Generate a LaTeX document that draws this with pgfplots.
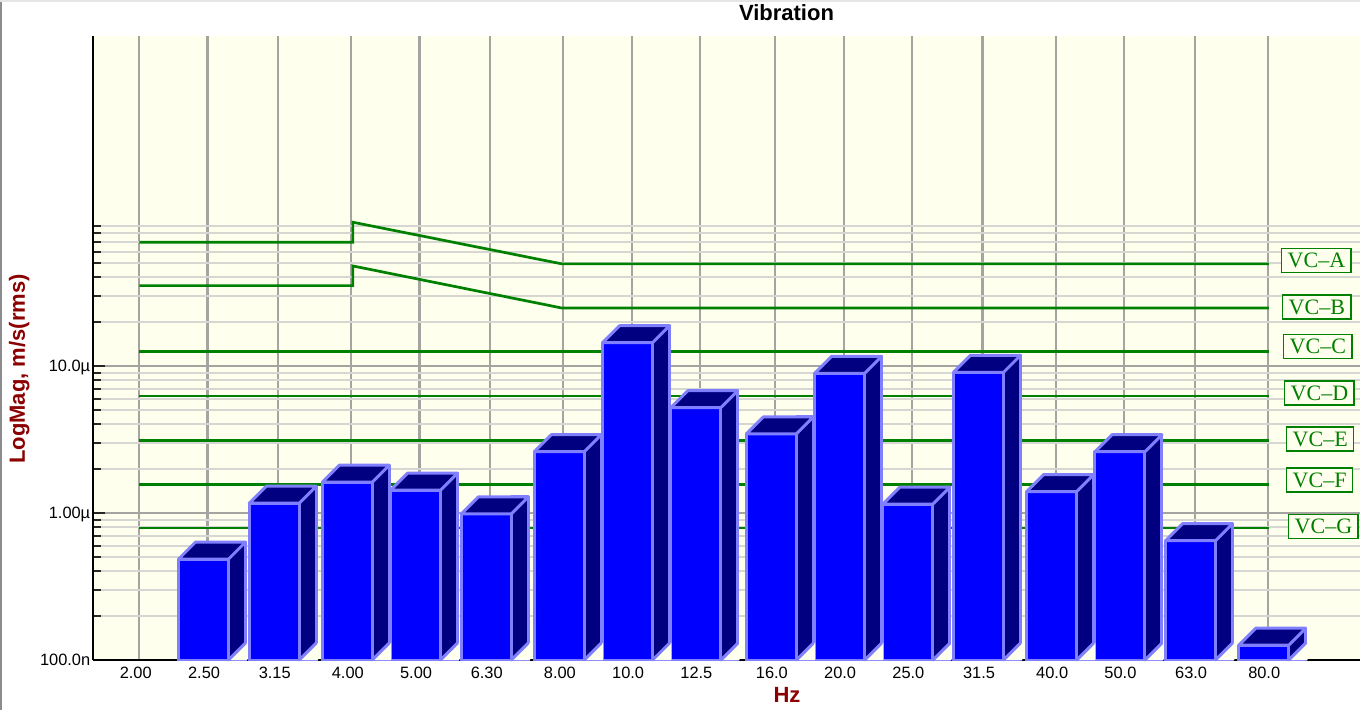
\documentclass[border=0pt]{standalone}
\usepackage{pgfplots}
\pgfplotsset{compat=1.18}
\usepackage{pgfplotstable}
\usepackage{fontspec}
\setmainfont{Liberation Sans}
\newfontfamily\vcfont{Liberation Serif}
\definecolor{cream}{HTML}{FFFFEE}
\definecolor{barblue}{HTML}{0000FF}
\definecolor{barnavy}{HTML}{000080}
\definecolor{baredge}{HTML}{8080FF}
\definecolor{vcgreen}{HTML}{008000}
\definecolor{labred}{HTML}{8B0000}
\definecolor{gridv}{HTML}{A4A4A0}
\definecolor{gridh}{HTML}{D6D6D2}

% top face of a 3D bar (origin: front top at nominal x)
\pgfdeclareplotmark{bartop}{%
  \pgfpathmoveto{\pgfpoint{-14.5pt}{0pt}}%
  \pgfpathlineto{\pgfpoint{10.5pt}{0pt}}%
  \pgfpathlineto{\pgfpoint{19pt}{8.5pt}}%
  \pgfpathlineto{\pgfpoint{-6pt}{8.5pt}}%
  \pgfpathclose
  \pgfusepathqfillstroke}
% uncovers the triangle under the side face at the foot of a bar
\pgfdeclareplotmark{barfoot}{%
  \pgfpathmoveto{\pgfpoint{10.5pt}{0pt}}%
  \pgfpathlineto{\pgfpoint{19.9pt}{0pt}}%
  \pgfpathlineto{\pgfpoint{19.9pt}{8.5pt}}%
  \pgfpathlineto{\pgfpoint{19pt}{8.5pt}}%
  \pgfpathclose
  \pgfusepathqfill
  \pgfpathmoveto{\pgfpoint{10.5pt}{0pt}}%
  \pgfpathlineto{\pgfpoint{19pt}{8.5pt}}%
  \pgfusepathqstroke}

\pgfplotstableread{
f v
2.5 4.86e-7
3.15 1.165e-6
4 1.62e-6
5 1.43e-6
6.3 9.85e-7
8 2.61e-6
10 1.44e-5
12.5 5.2e-6
16 3.45e-6
20 8.92e-6
25 1.15e-6
31.5 9.06e-6
40 1.40e-6
50 2.61e-6
63 6.48e-7
80 1.26e-7
}\bars

\begin{document}
\begin{tikzpicture}
\begin{axis}[
  at={(0pt,0pt)}, anchor=south west,
  scale only axis, width=633.5pt, height=312pt,
  xmode=log, ymode=log,
  xmin=1.7193, xmax=108.18, ymin=1e-7, ymax=1.757e-3,
  log origin y=infty,
  axis background/.style={fill=cream},
  axis x line=bottom, axis y line=left,
  axis line style={-, black, line width=1.25pt},
  xtick={2,2.5,3.15,4,5,6.3,8,10,12.5,16,20,25,31.5,40,50,63,80},
  xticklabels={2.00,2.50,3.15,4.00,5.00,6.30,8.00,10.0,12.5,16.0,20.0,25.0,31.5,40.0,50.0,63.0,80.0},
  minor xtick={},
  ytick={1e-7,1e-6,1e-5},
  yticklabels={100.0n,1.00µ,10.0µ},
  minor ytick={2e-7,3e-7,4e-7,5e-7,6e-7,7e-7,8e-7,9e-7,2e-6,3e-6,4e-6,5e-6,6e-6,7e-6,8e-6,9e-6,2e-5,3e-5,4e-5,5e-5,6e-5,7e-5,8e-5,9e-5},
  xmajorgrids, ymajorgrids, yminorgrids,
  every major x grid/.append style={gridv, line width=1.1pt},
  every major y grid/.append style={gridv, line width=1pt},
  every minor y grid/.append style={gridh, line width=1pt},
  tick align=inside,
  xtick style={draw=none},
  ytick style={black!85, line width=1pt},
  major tick length=6pt, minor tick length=3.8pt,
  tick label style={font=\fontsize{8.2}{9}\selectfont},
  xticklabel style={anchor=base, yshift=-9.2pt, xshift=-1.75pt},
  yticklabel style={anchor=base east, inner sep=0pt, xshift=-1.2pt, yshift=-2.9pt},
]
% VC criterion lines
\addplot[vcgreen, line width=1.35pt, mark=none] coordinates {(2,6.94e-5) (4.02,6.94e-5) (4.02,9.5e-5) (7.96,4.95e-5) (80.3,4.95e-5)};
\addplot[vcgreen, line width=1.35pt, mark=none] coordinates {(2,3.52e-5) (4.02,3.52e-5) (4.02,4.79e-5) (7.96,2.48e-5) (80.3,2.48e-5)};
\addplot[vcgreen, line width=1.35pt, mark=none] coordinates {(2,1.25e-5) (80.3,1.25e-5)};
\addplot[vcgreen, line width=1.35pt, mark=none] coordinates {(2,6.25e-6) (80.3,6.25e-6)};
\addplot[vcgreen, line width=1.35pt, mark=none] coordinates {(2,3.125e-6) (80.3,3.125e-6)};
\addplot[vcgreen, line width=1.35pt, mark=none] coordinates {(2,1.5625e-6) (80.3,1.5625e-6)};
\addplot[vcgreen, line width=1.35pt, mark=none] coordinates {(2,7.9e-7) (80.3,7.9e-7)};
% side faces
\addplot[ybar, mark=none, bar width=8.5pt, bar shift=14.75pt, fill=barnavy, draw=baredge, line width=1.5pt, line join=round]
  table[x=f, y expr=\thisrow{v}*1.305] {\bars};
% foot of the side faces
\addplot[only marks, mark=barfoot, mark options={fill=cream, draw=baredge, line width=1.5pt, line cap=round}]
  table[x=f, y expr=1e-7] {\bars};
% front faces
\addplot[ybar, mark=none, bar width=25pt, bar shift=-2pt, fill=barblue, draw=baredge, line width=1.5pt, line join=round]
  table[x=f, y=v] {\bars};
% top faces
\addplot[only marks, mark=bartop, mark options={fill=barnavy, draw=baredge, line width=1.5pt, line join=round}]
  table[x=f, y=v] {\bars};
\end{axis}
\pgfresetboundingbox
\path[use as bounding box] (-46.5pt,-25pt) rectangle (633.5pt,330pt);
\draw[black!45, line width=1.6pt] (-46.5pt,-25pt) -- (-46.5pt,330pt);
\draw[black!10, line width=1.6pt] (-46.5pt,330pt) -- (633.5pt,330pt);
\node[anchor=base, font=\bfseries\fontsize{11}{13}\selectfont] at (346.75pt,319.6pt) {Vibration};
\node[anchor=base, font=\bfseries\fontsize{11}{13}\selectfont, text=labred] at (347pt,-21.5pt) {Hz};
\node[anchor=base, rotate=90, font=\bfseries\fontsize{11}{13}\selectfont, text=labred] at (-34pt,145.5pt) {LogMag, m/s(rms)};
\tikzset{vc/.style={anchor=west, draw=vcgreen, fill=cream, line width=0.7pt, text=vcgreen,
  font=\vcfont\fontsize{11}{13}\selectfont, text height=7.3pt, text depth=0pt, inner xsep=3pt, inner ysep=2.35pt}}
\node[vc] at (594pt,199.75pt) {VC–A};
\node[vc] at (594.5pt,176.5pt) {VC–B};
\node[vc] at (595pt,156.75pt) {VC–C};
\node[vc] at (595.5pt,133.5pt) {VC–D};
\node[vc] at (596.5pt,110.5pt) {VC–E};
\node[vc] at (596.5pt,90pt) {VC–F};
\node[vc] at (597.5pt,66.65pt) {VC–G};
\end{tikzpicture}
\end{document}
